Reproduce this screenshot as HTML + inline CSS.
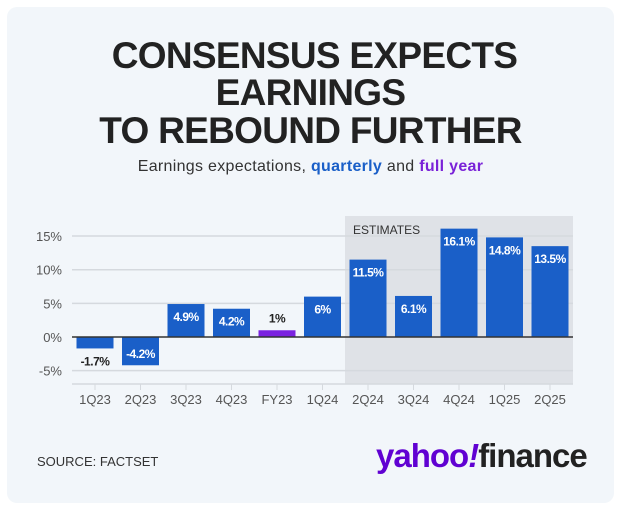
<!DOCTYPE html>
<html><head><meta charset="utf-8"><style>
body{margin:0;background:#fff;font-family:"Liberation Sans",sans-serif}
#card{position:absolute;left:7px;top:7px;width:607px;height:496px;background:#f2f6fa;border-radius:10px}
.t{position:absolute;left:0;width:621px;text-align:center;font-weight:bold;color:#222;font-size:37px;line-height:38px;letter-spacing:-0.7px}
</style></head><body>
<div id="card"></div>
<div class="t" style="top:37px;padding-left:8px;box-sizing:border-box">CONSENSUS EXPECTS</div>
<div class="t" style="top:74px">EARNINGS</div>
<div class="t" style="top:112px">TO REBOUND FURTHER</div>
<div style="position:absolute;top:158px;left:0;width:621px;text-align:center;font-size:16px;color:#333;letter-spacing:0.3px">Earnings expectations, <b style="color:#1a5fc8">quarterly</b> and <b style="color:#7a22d8">full year</b></div>
<svg id="ch" width="621" height="510" style="position:absolute;left:0;top:0"></svg>
<div style="position:absolute;left:37px;top:454px;font-size:13px;color:#333">SOURCE: FACTSET</div>
<div style="position:absolute;left:376px;top:437px;font-size:33px;font-weight:bold;letter-spacing:-1px"><span style="color:#6001d2">yahoo<i>!</i></span><span style="color:#222">finance</span></div>
<script>
const categories=["1Q23","2Q23","3Q23","4Q23","FY23","1Q24","2Q24","3Q24","4Q24","1Q25","2Q25"];
const values=[-1.7,-4.2,4.9,4.2,1,6,11.5,6.1,16.1,14.8,13.5];
const labels=["-1.7%","-4.2%","4.9%","4.2%","1%","6%","11.5%","6.1%","16.1%","14.8%","13.5%"];
const ticks=[15,10,5,0,-5];
const tickLabels=["15%","10%","5%","0%","-5%"];
const svg=document.getElementById('ch');const NS="http://www.w3.org/2000/svg";
const y=v=>337-v*6.73;const x=i=>95+i*45.5;
function mk(t,a,txt){const e=document.createElementNS(NS,t);for(const k in a)e.setAttribute(k,a[k]);if(txt!=null)e.textContent=txt;svg.appendChild(e);return e;}
let r=mk('rect',{x:345,y:216,width:228,height:168,fill:'#dfe2e7'});


let et=mk('text',{x:353,y:234,'font-size':12,fill:'#333'},'ESTIMATES');


ticks.forEach((t,i)=>{if(t!==0){let g=mk('line',{x1:72,x2:573,y1:y(t),y2:y(t),stroke:'#d5d9de','stroke-width':1.5});}
let l=mk('text',{x:62,y:y(t)+5,'text-anchor':'end','font-size':13,fill:'#555'},tickLabels[i]);

});
let ax=mk('line',{x1:72,x2:573,y1:384,y2:384,stroke:'#d5d9de','stroke-width':1.5});


categories.forEach((c,i)=>{const v=values[i];const cx=x(i);
const b=mk('rect',{x:cx-18.5,y:Math.min(y(v),y(0)),width:37,height:Math.abs(y(v)-y(0)),fill:c==="FY23"?'#7a22e0':'#1a5fc8'});


let ly,fill;if(v<0){const h=Math.abs(y(v)-y(0));if(h>20){ly=y(0)+21;fill='#fff';}else{ly=y(v)+17;fill='#222';}}
else if(Math.abs(y(v)-y(0))>20){ly=y(v)+17;fill='#fff';}else{ly=y(v)-8;fill='#222';}
const lt=mk('text',{x:cx,y:ly,'text-anchor':'middle','font-size':12,'font-weight':'bold',fill:fill,'letter-spacing':'-0.5'},labels[i]);


let tk=mk('line',{x1:cx,x2:cx,y1:384,y2:390,stroke:'#d5d9de'});


const xl=mk('text',{x:cx,y:404,'text-anchor':'middle','font-size':13,fill:'#555'},c);

});
let z=mk('line',{x1:72,x2:573,y1:y(0),y2:y(0),stroke:'#333','stroke-width':1.5});


</script>
</body></html>
